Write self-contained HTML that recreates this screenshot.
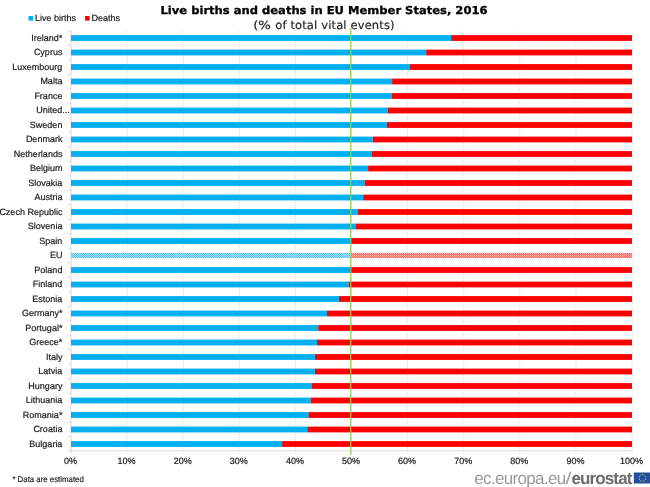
<!DOCTYPE html>
<html lang="en"><head><meta charset="utf-8"><title>Live births and deaths in EU Member States, 2016</title>
<style>html,body{margin:0;padding:0;background:#fff;}body{width:650px;height:487px;overflow:hidden;}svg{display:block;}text{text-rendering:geometricPrecision;}
.lbl{font-family:"Liberation Sans",Arial,sans-serif;font-size:9px;fill:#1a1a1a;stroke:#1a1a1a;stroke-width:0.2px;}
.ttl{font-family:"DejaVu Sans",Verdana,sans-serif;}
</style></head><body>
<svg width="650" height="487" viewBox="0 0 650 487">
<defs>
<pattern id="pb" width="2" height="2" patternUnits="userSpaceOnUse"><rect width="2" height="2" fill="#a3e2fa"/><rect width="1" height="1" fill="#52c9f5"/><rect x="1" y="1" width="1" height="1" fill="#52c9f5"/></pattern>
<pattern id="pr" width="2" height="2" patternUnits="userSpaceOnUse"><rect width="2" height="2" fill="#ffb0b0"/><rect width="1" height="1" fill="#ff6060"/><rect x="1" y="1" width="1" height="1" fill="#ff6060"/></pattern>
<filter id="bl" filterUnits="userSpaceOnUse" x="-10" y="-10" width="670" height="507"><feGaussianBlur stdDeviation="0.4"/></filter>
</defs>
<rect width="650" height="487" fill="#fff"/>
<g filter="url(#bl)">
<rect x="126.60" y="30.75" width="1" height="423.50" fill="#ececec"/>
<rect x="182.70" y="30.75" width="1" height="423.50" fill="#ececec"/>
<rect x="238.80" y="30.75" width="1" height="423.50" fill="#ececec"/>
<rect x="294.90" y="30.75" width="1" height="423.50" fill="#ececec"/>
<rect x="351.00" y="30.75" width="1" height="423.50" fill="#ececec"/>
<rect x="407.10" y="30.75" width="1" height="423.50" fill="#ececec"/>
<rect x="463.20" y="30.75" width="1" height="423.50" fill="#ececec"/>
<rect x="519.30" y="30.75" width="1" height="423.50" fill="#ececec"/>
<rect x="575.40" y="30.75" width="1" height="423.50" fill="#ececec"/>
<rect x="631.50" y="30.75" width="1" height="423.50" fill="#ececec"/>
<rect x="70.50" y="30.75" width="1" height="423.50" fill="#d9d9d9"/>
<rect x="70.50" y="450.35" width="562.00" height="1" fill="#d9d9d9"/>
<rect x="67.50" y="30.25" width="3.5" height="1" fill="#d9d9d9"/>
<rect x="67.50" y="44.75" width="3.5" height="1" fill="#d9d9d9"/>
<rect x="67.50" y="59.25" width="3.5" height="1" fill="#d9d9d9"/>
<rect x="67.50" y="73.75" width="3.5" height="1" fill="#d9d9d9"/>
<rect x="67.50" y="88.25" width="3.5" height="1" fill="#d9d9d9"/>
<rect x="67.50" y="102.75" width="3.5" height="1" fill="#d9d9d9"/>
<rect x="67.50" y="117.25" width="3.5" height="1" fill="#d9d9d9"/>
<rect x="67.50" y="131.75" width="3.5" height="1" fill="#d9d9d9"/>
<rect x="67.50" y="146.25" width="3.5" height="1" fill="#d9d9d9"/>
<rect x="67.50" y="160.75" width="3.5" height="1" fill="#d9d9d9"/>
<rect x="67.50" y="175.25" width="3.5" height="1" fill="#d9d9d9"/>
<rect x="67.50" y="189.75" width="3.5" height="1" fill="#d9d9d9"/>
<rect x="67.50" y="204.25" width="3.5" height="1" fill="#d9d9d9"/>
<rect x="67.50" y="218.75" width="3.5" height="1" fill="#d9d9d9"/>
<rect x="67.50" y="233.25" width="3.5" height="1" fill="#d9d9d9"/>
<rect x="67.50" y="247.75" width="3.5" height="1" fill="#d9d9d9"/>
<rect x="67.50" y="262.25" width="3.5" height="1" fill="#d9d9d9"/>
<rect x="67.50" y="276.75" width="3.5" height="1" fill="#d9d9d9"/>
<rect x="67.50" y="291.25" width="3.5" height="1" fill="#d9d9d9"/>
<rect x="67.50" y="305.75" width="3.5" height="1" fill="#d9d9d9"/>
<rect x="67.50" y="320.25" width="3.5" height="1" fill="#d9d9d9"/>
<rect x="67.50" y="334.75" width="3.5" height="1" fill="#d9d9d9"/>
<rect x="67.50" y="349.25" width="3.5" height="1" fill="#d9d9d9"/>
<rect x="67.50" y="363.75" width="3.5" height="1" fill="#d9d9d9"/>
<rect x="67.50" y="378.25" width="3.5" height="1" fill="#d9d9d9"/>
<rect x="67.50" y="392.75" width="3.5" height="1" fill="#d9d9d9"/>
<rect x="67.50" y="407.25" width="3.5" height="1" fill="#d9d9d9"/>
<rect x="67.50" y="421.75" width="3.5" height="1" fill="#d9d9d9"/>
<rect x="67.50" y="436.25" width="3.5" height="1" fill="#d9d9d9"/>
<rect x="67.50" y="450.35" width="3.5" height="1" fill="#d9d9d9"/>
<rect x="71.00" y="35.10" width="380.10" height="5.8" fill="#00b0f0"/>
<rect x="451.10" y="35.10" width="180.90" height="5.8" fill="#ff0000"/>
<text class="lbl" x="62.4" y="40.65" text-anchor="end">Ireland*</text>
<rect x="71.00" y="49.60" width="355.20" height="5.8" fill="#00b0f0"/>
<rect x="426.20" y="49.60" width="205.80" height="5.8" fill="#ff0000"/>
<text class="lbl" x="62.4" y="55.15" text-anchor="end">Cyprus</text>
<rect x="71.00" y="64.10" width="338.50" height="5.8" fill="#00b0f0"/>
<rect x="409.50" y="64.10" width="222.50" height="5.8" fill="#ff0000"/>
<text class="lbl" x="62.4" y="69.65" text-anchor="end">Luxembourg</text>
<rect x="71.00" y="78.60" width="321.10" height="5.8" fill="#00b0f0"/>
<rect x="392.10" y="78.60" width="239.90" height="5.8" fill="#ff0000"/>
<text class="lbl" x="62.4" y="84.15" text-anchor="end">Malta</text>
<rect x="71.00" y="93.10" width="320.80" height="5.8" fill="#00b0f0"/>
<rect x="391.80" y="93.10" width="240.20" height="5.8" fill="#ff0000"/>
<text class="lbl" x="62.4" y="98.65" text-anchor="end">France</text>
<rect x="71.00" y="107.60" width="316.80" height="5.8" fill="#00b0f0"/>
<rect x="387.80" y="107.60" width="244.20" height="5.8" fill="#ff0000"/>
<text class="lbl" x="36.35" y="113.15">United...</text>
<rect x="71.00" y="122.10" width="315.80" height="5.8" fill="#00b0f0"/>
<rect x="386.80" y="122.10" width="245.20" height="5.8" fill="#ff0000"/>
<text class="lbl" x="62.4" y="127.65" text-anchor="end">Sweden</text>
<rect x="71.00" y="136.60" width="301.70" height="5.8" fill="#00b0f0"/>
<rect x="372.70" y="136.60" width="259.30" height="5.8" fill="#ff0000"/>
<text class="lbl" x="62.4" y="142.15" text-anchor="end">Denmark</text>
<rect x="71.00" y="151.10" width="300.80" height="5.8" fill="#00b0f0"/>
<rect x="371.80" y="151.10" width="260.20" height="5.8" fill="#ff0000"/>
<text class="lbl" x="62.4" y="156.65" text-anchor="end">Netherlands</text>
<rect x="71.00" y="165.60" width="297.10" height="5.8" fill="#00b0f0"/>
<rect x="368.10" y="165.60" width="263.90" height="5.8" fill="#ff0000"/>
<text class="lbl" x="62.4" y="171.15" text-anchor="end">Belgium</text>
<rect x="71.00" y="180.10" width="293.60" height="5.8" fill="#00b0f0"/>
<rect x="364.60" y="180.10" width="267.40" height="5.8" fill="#ff0000"/>
<text class="lbl" x="62.4" y="185.65" text-anchor="end">Slovakia</text>
<rect x="71.00" y="194.60" width="292.20" height="5.8" fill="#00b0f0"/>
<rect x="363.20" y="194.60" width="268.80" height="5.8" fill="#ff0000"/>
<text class="lbl" x="62.4" y="200.15" text-anchor="end">Austria</text>
<rect x="71.00" y="209.10" width="286.60" height="5.8" fill="#00b0f0"/>
<rect x="357.60" y="209.10" width="274.40" height="5.8" fill="#ff0000"/>
<text class="lbl" x="62.4" y="214.65" text-anchor="end">Czech Republic</text>
<rect x="71.00" y="223.60" width="285.00" height="5.8" fill="#00b0f0"/>
<rect x="356.00" y="223.60" width="276.00" height="5.8" fill="#ff0000"/>
<text class="lbl" x="62.4" y="229.15" text-anchor="end">Slovenia</text>
<rect x="71.00" y="238.10" width="280.10" height="5.8" fill="#00b0f0"/>
<rect x="351.10" y="238.10" width="280.90" height="5.8" fill="#ff0000"/>
<text class="lbl" x="62.4" y="243.65" text-anchor="end">Spain</text>
<rect x="71.00" y="252.90" width="279.50" height="5.2" fill="url(#pb)"/>
<rect x="350.50" y="252.90" width="281.50" height="5.2" fill="url(#pr)"/>
<text class="lbl" x="62.4" y="258.15" text-anchor="end">EU</text>
<rect x="71.00" y="267.10" width="278.30" height="5.8" fill="#00b0f0"/>
<rect x="349.30" y="267.10" width="282.70" height="5.8" fill="#ff0000"/>
<text class="lbl" x="62.4" y="272.65" text-anchor="end">Poland</text>
<rect x="71.00" y="281.60" width="277.50" height="5.8" fill="#00b0f0"/>
<rect x="348.50" y="281.60" width="283.50" height="5.8" fill="#ff0000"/>
<text class="lbl" x="62.4" y="287.15" text-anchor="end">Finland</text>
<rect x="71.00" y="296.10" width="267.90" height="5.8" fill="#00b0f0"/>
<rect x="338.90" y="296.10" width="293.10" height="5.8" fill="#ff0000"/>
<text class="lbl" x="62.4" y="301.65" text-anchor="end">Estonia</text>
<rect x="71.00" y="310.60" width="255.90" height="5.8" fill="#00b0f0"/>
<rect x="326.90" y="310.60" width="305.10" height="5.8" fill="#ff0000"/>
<text class="lbl" x="62.4" y="316.15" text-anchor="end">Germany*</text>
<rect x="71.00" y="325.10" width="247.20" height="5.8" fill="#00b0f0"/>
<rect x="318.20" y="325.10" width="313.80" height="5.8" fill="#ff0000"/>
<text class="lbl" x="62.4" y="330.65" text-anchor="end">Portugal*</text>
<rect x="71.00" y="339.60" width="246.00" height="5.8" fill="#00b0f0"/>
<rect x="317.00" y="339.60" width="315.00" height="5.8" fill="#ff0000"/>
<text class="lbl" x="62.4" y="345.15" text-anchor="end">Greece*</text>
<rect x="71.00" y="354.10" width="243.90" height="5.8" fill="#00b0f0"/>
<rect x="314.90" y="354.10" width="317.10" height="5.8" fill="#ff0000"/>
<text class="lbl" x="62.4" y="359.65" text-anchor="end">Italy</text>
<rect x="71.00" y="368.60" width="243.90" height="5.8" fill="#00b0f0"/>
<rect x="314.90" y="368.60" width="317.10" height="5.8" fill="#ff0000"/>
<text class="lbl" x="62.4" y="374.15" text-anchor="end">Latvia</text>
<rect x="71.00" y="383.10" width="240.50" height="5.8" fill="#00b0f0"/>
<rect x="311.50" y="383.10" width="320.50" height="5.8" fill="#ff0000"/>
<text class="lbl" x="62.4" y="388.65" text-anchor="end">Hungary</text>
<rect x="71.00" y="397.60" width="239.60" height="5.8" fill="#00b0f0"/>
<rect x="310.60" y="397.60" width="321.40" height="5.8" fill="#ff0000"/>
<text class="lbl" x="62.4" y="403.15" text-anchor="end">Lithuania</text>
<rect x="71.00" y="412.10" width="237.50" height="5.8" fill="#00b0f0"/>
<rect x="308.50" y="412.10" width="323.50" height="5.8" fill="#ff0000"/>
<text class="lbl" x="62.4" y="417.65" text-anchor="end">Romania*</text>
<rect x="71.00" y="426.60" width="236.30" height="5.8" fill="#00b0f0"/>
<rect x="307.30" y="426.60" width="324.70" height="5.8" fill="#ff0000"/>
<text class="lbl" x="62.4" y="432.15" text-anchor="end">Croatia</text>
<rect x="71.00" y="441.10" width="211.10" height="5.8" fill="#00b0f0"/>
<rect x="282.10" y="441.10" width="349.90" height="5.8" fill="#ff0000"/>
<text class="lbl" x="62.4" y="446.65" text-anchor="end">Bulgaria</text>
<rect x="349.95" y="28" width="1.5" height="427" fill="#92d050" fill-opacity="0.82"/>
<text class="lbl" x="70.50" y="464.4" text-anchor="middle">0%</text>
<text class="lbl" x="126.60" y="464.4" text-anchor="middle">10%</text>
<text class="lbl" x="182.70" y="464.4" text-anchor="middle">20%</text>
<text class="lbl" x="238.80" y="464.4" text-anchor="middle">30%</text>
<text class="lbl" x="294.90" y="464.4" text-anchor="middle">40%</text>
<text class="lbl" x="351.00" y="464.4" text-anchor="middle">50%</text>
<text class="lbl" x="407.10" y="464.4" text-anchor="middle">60%</text>
<text class="lbl" x="463.20" y="464.4" text-anchor="middle">70%</text>
<text class="lbl" x="519.30" y="464.4" text-anchor="middle">80%</text>
<text class="lbl" x="575.40" y="464.4" text-anchor="middle">90%</text>
<text class="lbl" x="631.50" y="464.4" text-anchor="middle">100%</text>
<rect x="28.5" y="16" width="4.5" height="4.6" fill="#00b0f0"/>
<text class="lbl" x="34.9" y="21.3">Live births</text>
<rect x="85.1" y="16" width="4.5" height="4.6" fill="#ff0000"/>
<text class="lbl" x="91.4" y="21.3">Deaths</text>
<text class="ttl" x="160.5" y="14.3" font-size="10.9" font-weight="bold" fill="#000" stroke="#000" stroke-width="0.3" textLength="327" lengthAdjust="spacingAndGlyphs">Live births and deaths in EU Member States, 2016</text>
<text class="ttl" y="28.8" font-size="11.5" fill="#1a1a1a" stroke="#1a1a1a" stroke-width="0.15"><tspan x="253.2" textLength="22" lengthAdjust="spacingAndGlyphs">(% </tspan><tspan x="275.2" textLength="119.4" lengthAdjust="spacing">of total vital events)</tspan></text>
<text x="12.4" y="481.9" font-family="'Liberation Sans',Arial,sans-serif" font-size="8.3" fill="#1a1a1a" stroke="#1a1a1a" stroke-width="0.15" textLength="71.4" lengthAdjust="spacingAndGlyphs">* Data are estimated</text>
<text x="474.3" y="483.6" font-family="'Liberation Sans',Arial,sans-serif" font-size="17" fill="#9a9a9a" textLength="91.9" lengthAdjust="spacing">ec.europa.eu</text>
<text x="565.6" y="483.6" font-family="'Liberation Sans',Arial,sans-serif" font-size="17" fill="#a0a0a0" textLength="6" lengthAdjust="spacingAndGlyphs">/</text>
<text x="571.4" y="483.6" font-family="'Liberation Sans',Arial,sans-serif" font-size="17" font-weight="bold" fill="#6c6c6c" textLength="61" lengthAdjust="spacing">eurostat</text>
<rect x="633.8" y="472.5" width="24" height="11" fill="#2350a0"/>
<circle cx="642.30" cy="474.60" r="0.5" fill="#ddd255"/>
<circle cx="643.95" cy="475.04" r="0.5" fill="#ddd255"/>
<circle cx="645.16" cy="476.25" r="0.5" fill="#ddd255"/>
<circle cx="645.60" cy="477.90" r="0.5" fill="#ddd255"/>
<circle cx="645.16" cy="479.55" r="0.5" fill="#ddd255"/>
<circle cx="643.95" cy="480.76" r="0.5" fill="#ddd255"/>
<circle cx="642.30" cy="481.20" r="0.5" fill="#ddd255"/>
<circle cx="640.65" cy="480.76" r="0.5" fill="#ddd255"/>
<circle cx="639.44" cy="479.55" r="0.5" fill="#ddd255"/>
<circle cx="639.00" cy="477.90" r="0.5" fill="#ddd255"/>
<circle cx="639.44" cy="476.25" r="0.5" fill="#ddd255"/>
<circle cx="640.65" cy="475.04" r="0.5" fill="#ddd255"/>
</g>
</svg></body></html>
